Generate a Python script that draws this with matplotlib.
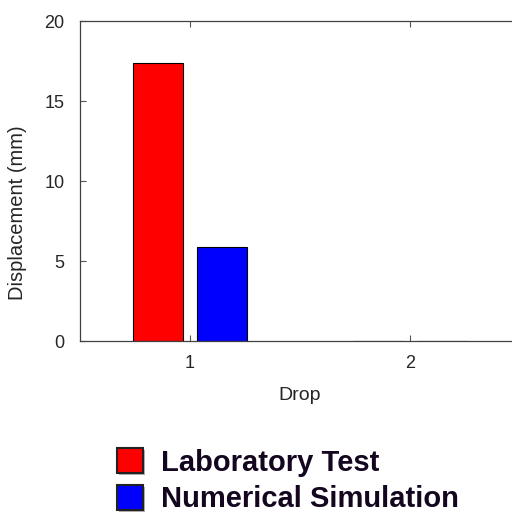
import matplotlib.pyplot as plt
import matplotlib.patches as mpatches
import matplotlib.patheffects as pe
import numpy as np

plt.rcParams['font.family'] = ['Liberation Sans', 'DejaVu Sans']

# data
drops = [1, 2]
lab_test = [17.4, 0.0]
num_sim = [5.85, 0.0]
series_names = ['Laboratory Test', 'Numerical Simulation']
yticks = [0, 5, 10, 15, 20]

fig = plt.figure(figsize=(5.12, 5.19), dpi=100)
# axes runs a little past the right edge, like the cropped original
ax = fig.add_axes([80 / 512, 178 / 519, 440 / 512, 320 / 519])

x = np.array(drops)
w = 0.23
ax.bar(x - 0.145, lab_test, w, color='#ff0000', edgecolor='black', linewidth=0.8)
ax.bar(x + 0.145, num_sim, w, color='#0000ff', edgecolor='black', linewidth=0.8)

ax.set_xlim(0.5, 2.5)
ax.set_ylim(0, 20)
ax.set_xticks(drops)
ax.set_yticks(yticks)
ax.tick_params(direction='in', length=4, color='#555555', labelsize=13,
               labelcolor='#262626', pad=10, top=True)
ax.tick_params(axis='y', pad=11)
for s in ['left', 'top', 'bottom']:
    ax.spines[s].set_color('#404040')
    ax.spines[s].set_linewidth(0.9)
ax.spines['right'].set_visible(False)

ax.set_xlabel('Drop', fontsize=14, color='#262626', labelpad=11)
ax.set_ylabel('Displacement (mm)', fontsize=14.5, color='#262626')
ax.yaxis.set_label_coords(-0.12, 0.40)

shadow = [pe.withSimplePatchShadow(offset=(1.5, -1.5), shadow_rgbFace='gray', alpha=0.6)]
handles = [mpatches.Patch(facecolor='#ff0000', edgecolor='#222222', linewidth=1.5,
                          path_effects=shadow),
           mpatches.Patch(facecolor='#0000ff', edgecolor='#222222', linewidth=1.5,
                          path_effects=shadow)]
leg = fig.legend(handles, series_names, loc='upper left',
                 bbox_to_anchor=(117 / 512, 1 - 448 / 519), frameon=False,
                 prop={'weight': 'bold', 'size': 21},
                 handlelength=0.9, handleheight=0.95, handletextpad=0.6,
                 labelspacing=0.28, borderaxespad=0, borderpad=0)
for t in leg.get_texts():
    t.set_color('#14061e')

fig.savefig('out.png', dpi=100)
